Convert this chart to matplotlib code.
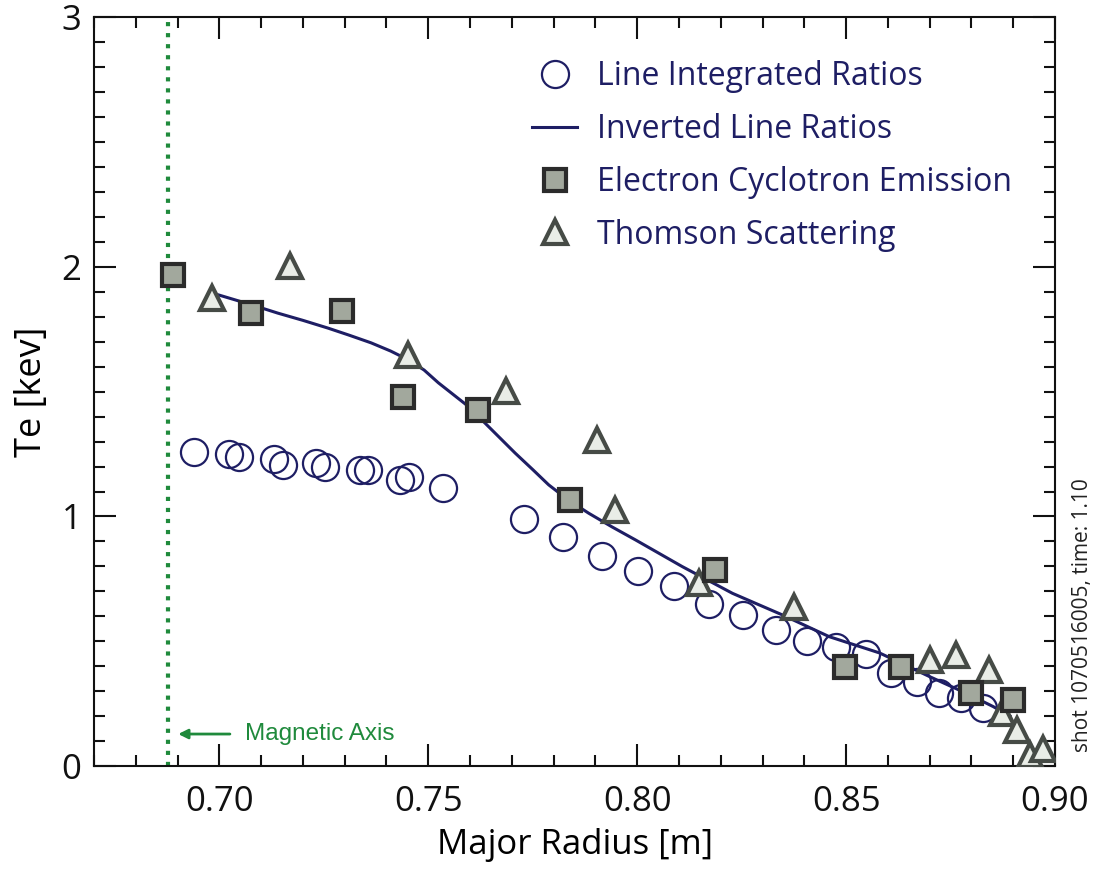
import numpy as np
import matplotlib
matplotlib.use('Agg')
import matplotlib.pyplot as plt
from matplotlib.ticker import MultipleLocator

plt.rcParams['font.family'] = ['Open Sans', 'DejaVu Sans']

# Line Integrated Ratios (circles)
lir_r = [0.6940, 0.7024, 0.7048, 0.7132, 0.7152, 0.7232, 0.7252, 0.7336, 0.7356,
         0.7432, 0.7454, 0.7536, 0.7730, 0.7822, 0.7915, 0.8001, 0.8089, 0.8172,
         0.8254, 0.8332, 0.8407, 0.8477, 0.8547, 0.8608, 0.8669, 0.8722, 0.8776, 0.8827]
lir_te = [1.260, 1.250, 1.240, 1.230, 1.207, 1.216, 1.200, 1.187, 1.187,
          1.147, 1.160, 1.116, 0.989, 0.917, 0.842, 0.783, 0.722, 0.650,
          0.604, 0.545, 0.501, 0.477, 0.449, 0.373, 0.337, 0.293, 0.273, 0.233]

# Inverted Line Ratios (line)
ilr_r = [0.6996, 0.7076, 0.7140, 0.7200, 0.7260, 0.7310, 0.7363, 0.7410, 0.7452,
         0.7490, 0.7524, 0.7596, 0.7636, 0.7708, 0.7750, 0.7788, 0.7835, 0.7884,
         0.7940, 0.7996, 0.8108, 0.8228, 0.8348, 0.8460, 0.8580, 0.8700, 0.8788,
         0.8852, 0.8892]
ilr_te = [1.889, 1.849, 1.815, 1.786, 1.755, 1.727, 1.696, 1.663, 1.628,
          1.587, 1.536, 1.441, 1.374, 1.254, 1.188, 1.127, 1.066, 1.013,
          0.958, 0.906, 0.799, 0.692, 0.605, 0.518, 0.453, 0.358, 0.291,
          0.238, 0.200]

# Electron Cyclotron Emission (squares)
ece_r = [0.6890, 0.7076, 0.7294, 0.7440, 0.7620, 0.7840, 0.8186, 0.8497, 0.8632, 0.8798, 0.8900]
ece_te = [1.969, 1.815, 1.824, 1.478, 1.427, 1.067, 0.786, 0.398, 0.398, 0.291, 0.265]

# Thomson Scattering (triangles)
ts_r = [0.6982, 0.7169, 0.7452, 0.7685, 0.7904, 0.7948, 0.8148, 0.8376, 0.8700,
        0.8763, 0.8842, 0.8872, 0.8908, 0.8940, 0.8971]
ts_te = [1.875, 2.002, 1.648, 1.501, 1.307, 1.026, 0.733, 0.639, 0.425,
         0.445, 0.385, 0.212, 0.144, 0.044, 0.068]

mag_axis = 0.6878

navy = '#1e1e64'
green = '#1f8a3c'

fig = plt.figure(figsize=(10.99, 8.73), dpi=100)
ax = fig.add_axes([0.0855, 0.1226, 0.8745, 0.8574])

ax.axvline(mag_axis, color=green, ls=':', lw=3, zorder=1)

ax.plot(lir_r, lir_te, 'o', ms=19.5, mfc='none', mec=navy, mew=1.6,
        label='Line Integrated Ratios', zorder=2)
ax.plot(ilr_r, ilr_te, '-', color=navy, lw=2.2, label='Inverted Line Ratios', zorder=3)
ax.plot(ece_r, ece_te, 's', ms=16.5, mfc='#a2a89d', mec='#2b2b2b', mew=3,
        label='Electron Cyclotron Emission', zorder=5)
ax.plot(ts_r, ts_te, '^', ms=17.5, mfc='#e9ede7', mec='#464b46', mew=3,
        label='Thomson Scattering', zorder=4)

ax.annotate('', xy=(0.6895, 0.128), xytext=(0.7032, 0.128),
            arrowprops=dict(arrowstyle='-|>', color=green, lw=2, mutation_scale=14))
ax.text(0.7061, 0.128, 'Magnetic Axis', color=green, fontsize=17.5,
        family=['Liberation Sans', 'DejaVu Sans'], va='center', ha='left')

ax.set_xlim(0.67, 0.90)
ax.set_ylim(0, 3)
ax.xaxis.set_major_locator(MultipleLocator(0.05))
ax.xaxis.set_minor_locator(MultipleLocator(0.01))
ax.yaxis.set_major_locator(MultipleLocator(1))
ax.yaxis.set_minor_locator(MultipleLocator(0.1))
ax.set_xticks([0.70, 0.75, 0.80, 0.85, 0.90])
ax.set_xticklabels(['0.70', '0.75', '0.80', '0.85', '0.90'])
ax.set_yticks([0, 1, 2, 3])
ax.set_yticklabels(['0', '1', '2', '3'])

ax.tick_params(which='both', direction='in', top=True, right=True, width=1.5,
               labelsize=25, colors='#111111')
ax.tick_params(which='major', length=16)
ax.tick_params(which='minor', length=8)
ax.tick_params(axis='x', pad=14)
ax.tick_params(axis='y', pad=9)
for s in ax.spines.values():
    s.set_linewidth(1.5)
    s.set_color('#111111')

ax.set_xlabel('Major Radius [m]', fontsize=25, labelpad=6)
ax.set_ylabel('Te [kev]', fontsize=26, labelpad=8)

leg = ax.legend(loc='upper left', bbox_to_anchor=(0.443, 0.96), frameon=False,
                fontsize=23, handlelength=1.4, handletextpad=0.63, labelspacing=0.62,
                borderaxespad=0.0)
for t in leg.get_texts():
    t.set_color(navy)

fig.text(0.985, 0.2955, 'shot 1070516005, time: 1.10', rotation=90, fontsize=15,
         color='#222222', ha='center', va='center')

fig.savefig('out.png', dpi=100)
